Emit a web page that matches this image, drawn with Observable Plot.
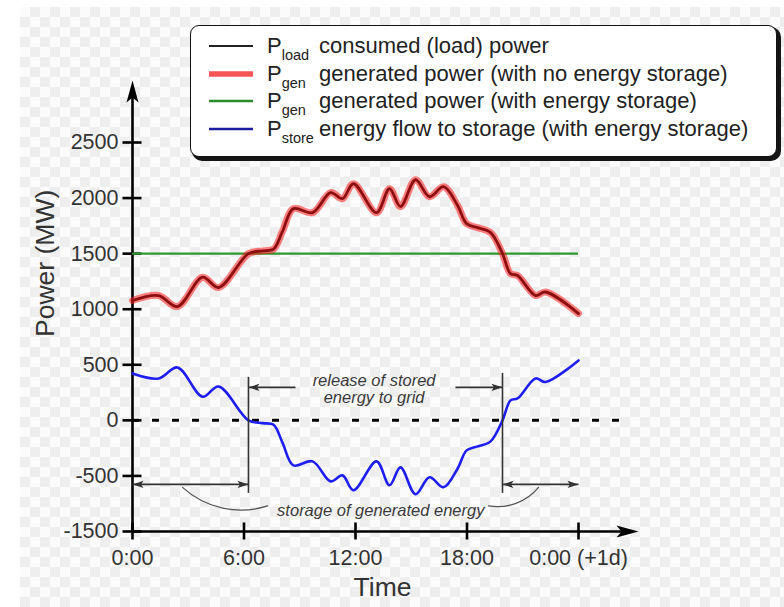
<!DOCTYPE html>
<html><head><meta charset="utf-8">
<script src="https://cdn.jsdelivr.net/npm/d3@7"></script>
<script src="https://cdn.jsdelivr.net/npm/@observablehq/plot@0.6"></script>
<style>
html,body{margin:0;padding:0;background:#fff;}
#wrap{position:relative;width:784px;height:607px;overflow:hidden;font-family:"Liberation Sans",Arial,sans-serif;}
#bg{position:absolute;left:20px;top:7px;right:0;bottom:0;background:repeating-conic-gradient(#eeeeee 0 25%, #fbfbfb 0 50%) 0 0/20px 20px;}
#chart{position:absolute;left:0;top:0;}
#chart svg{display:block;}
#legend{position:absolute;left:190px;top:25px;width:585px;height:130px;border:1.5px solid #111;border-radius:9px;background:#fff;box-shadow:3px 3px 0 1px #151515;color:#222;}
.row{position:absolute;left:0;height:28px;width:100%;}
.sw{position:absolute;left:17px;top:6px;}
.p{position:absolute;left:76px;top:0px;font-size:22px;line-height:24px;white-space:nowrap;}
.p sub{font-size:14.5px;vertical-align:-7px;line-height:0;}
.t{position:absolute;left:128px;top:0px;font-size:22px;line-height:24px;white-space:nowrap;}
</style></head>
<body>
<div id="wrap"><div id="bg"></div><div id="chart"></div><div id="legend"></div></div>
<script>
// ---- data ----
const hours   = [0, 1.40, 2.42, 3.77, 4.63, 6.24, 7.00, 7.59, 8.07, 8.66, 9.69, 10.66, 11.30, 11.89, 13.13, 13.83, 14.42, 15.23, 15.98, 16.74, 17.49, 17.98, 18.57, 19.27, 19.91, 20.34, 20.72, 21.69, 22.23, 24];
const loadMW  = [1078, 1123, 1024, 1288, 1195, 1500, 1525, 1540, 1700, 1905, 1869, 2049, 1995, 2129, 1869, 2084, 1923, 2165, 2012, 2102, 1935, 1770, 1734, 1689, 1500, 1320, 1303, 1123, 1155, 961];
const storeMW = [422, 377, 476, 212, 305, 0, -25, -40, -200, -405, -369, -549, -495, -629, -369, -584, -423, -665, -512, -602, -435, -270, -234, -189, 0, 180, 197, 377, 345, 539];
const genWithStorageMW = 1500;

const xTicks = [0, 6, 12, 18, 24];
const xTickLabels = ["0:00", "6:00", "12:00", "18:00", "0:00 (+1d)"];
const yTicks = [-1000, -500, 0, 500, 1000, 1500, 2000, 2500];
const yTickLabels = ["-1500", "-500", "0", "500", "1000", "1500", "2000", "2500"];

const xAxisEnd = 27.23;   // hours, tip of x-axis arrow
const yAxisTop = 3058;    // MW, tip of y-axis arrow
const yAxisBottom = -1000;
const zeroLineEnd = 26.4;

const releaseStart = 6.24, releaseEnd = 19.91, dayEnd = 24;
const releaseMarkerTops = [387, 423];
const markerBottom = -657;
const releaseArrowMW = 297;
const releaseArrowFrom = [8.77, 17.38];
const storageArrowMW = -576;
const releaseText = "release of stored\nenergy to grid";
const releaseTextPos = [13.0, 279];
const storageText = "storage of generated energy";
const storageTextPos = [13.36, -810];
const leaderLines = [
  {x1: 2.69, y1: -603, x2: 7.27, y2: -770, bend: -30},
  {x1: 21.85, y1: -603, x2: 19.16, y2: -770, bend: 30}
];

const legendItems = [
  {sub: "load", text: "consumed (load) power", color: "#222", width: 2},
  {sub: "gen", text: "generated power (with no energy storage)", color: "#f55555", width: 5.5},
  {sub: "gen", text: "generated power (with energy storage)", color: "#2a8c2a", width: 2.5},
  {sub: "store", text: "energy flow to storage (with energy storage)", color: "#1c1ca0", width: 2.5}
];

// ---- build ----
const series = hours.map((h, i) => ({h, load: loadMW[i], store: storeMW[i]}));
const bigHead = {draw(ctx) { ctx.moveTo(0, 0); ctx.lineTo(6, 22); ctx.lineTo(0, 17); ctx.lineTo(-6, 22); ctx.closePath(); }};
const smallHead = {draw(ctx) { ctx.moveTo(0, 0); ctx.lineTo(3.6, 11); ctx.lineTo(0, 8.5); ctx.lineTo(-3.6, 11); ctx.closePath(); }};

const axisHeads = [{x: 0, y: yAxisTop, r: 0}, {x: xAxisEnd, y: yAxisBottom, r: 90}];
const markers = [
  {x: releaseStart, y1: releaseMarkerTops[0], y2: markerBottom},
  {x: releaseEnd, y1: releaseMarkerTops[1], y2: markerBottom}
];
const shafts = [
  {x1: releaseArrowFrom[0], x2: releaseStart, y: releaseArrowMW},
  {x1: releaseArrowFrom[1], x2: releaseEnd, y: releaseArrowMW},
  {x1: 0, x2: releaseStart, y: storageArrowMW},
  {x1: releaseEnd, x2: dayEnd, y: storageArrowMW}
];
const heads = [
  {x: releaseStart, y: releaseArrowMW, r: -90},
  {x: releaseEnd, y: releaseArrowMW, r: 90},
  {x: 0, y: storageArrowMW, r: -90},
  {x: releaseStart, y: storageArrowMW, r: 90},
  {x: releaseEnd, y: storageArrowMW, r: -90},
  {x: dayEnd, y: storageArrowMW, r: 90}
];

const chart = Plot.plot({
  width: 784, height: 607,
  marginLeft: 132, marginRight: 206, marginTop: 142, marginBottom: 76,
  x: {domain: [0, 24]},
  y: {domain: [-1000, 2500]},
  style: {background: "transparent", fontFamily: "'Liberation Sans', Arial, sans-serif", color: "#333"},
  marks: [
    // axis lines
    Plot.ruleX([0], {y1: yAxisBottom, y2: yAxisTop - 110, stroke: "#000", strokeWidth: 2.6}),
    Plot.ruleY([yAxisBottom], {x1: 0, x2: xAxisEnd - 0.6, stroke: "#000", strokeWidth: 2.6}),
    Plot.axisY({ticks: yTicks, tickFormat: (d) => yTickLabels[yTicks.indexOf(d)], tickSize: 19, tickPadding: 4.5, dx: 9.5,
      fontSize: 21.5, strokeWidth: 2.6, stroke: "#000", fill: "#333", label: null}),
    Plot.axisX({ticks: xTicks, tickFormat: (d) => xTickLabels[xTicks.indexOf(d)], tickSize: 17, tickPadding: 10, dy: -8.5,
      fontSize: 21.5, strokeWidth: 2.6, stroke: "#000", fill: "#333", label: null}),
    // zero line and constant generation
    Plot.ruleY([0], {x1: 0, x2: zeroLineEnd, stroke: "#000", strokeWidth: 3, strokeDasharray: "7,13"}),
    Plot.ruleY([genWithStorageMW], {x1: 0, x2: dayEnd, stroke: "#2e992e", strokeWidth: 2.2}),
    // storage flow
    Plot.line(series, {x: "h", y: "store", curve: "catmull-rom", stroke: "#1e1ef0", strokeWidth: 2.6}),
    // load (black) with generation (no storage) red halo
    Plot.line(series, {x: "h", y: "load", curve: "catmull-rom", stroke: "#000", strokeWidth: 2.8}),
    Plot.line(series, {x: "h", y: "load", curve: "catmull-rom", stroke: "#ff1a1a", strokeWidth: 7, strokeOpacity: 0.55}),
    // annotations
    Plot.ruleX(markers, {x: "x", y1: "y1", y2: "y2", stroke: "#333", strokeWidth: 1.6}),
    Plot.link(shafts, {x1: "x1", x2: "x2", y1: "y", y2: "y", stroke: "#333", strokeWidth: 1.6}),
    Plot.dot(heads, {x: "x", y: "y", rotate: "r", symbol: smallHead, r: 4, fill: "#333", stroke: "none"}),
    Plot.arrow([leaderLines[0]], {x1: "x1", y1: "y1", x2: "x2", y2: "y2", bend: leaderLines[0].bend, headLength: 0, stroke: "#555", strokeWidth: 1.3}),
    Plot.arrow([leaderLines[1]], {x1: "x1", y1: "y1", x2: "x2", y2: "y2", bend: leaderLines[1].bend, headLength: 0, stroke: "#555", strokeWidth: 1.3}),
    Plot.text([releaseText], {x: releaseTextPos[0], y: releaseTextPos[1], text: d => d, fontSize: 16.5, fontStyle: "italic", fill: "#3a3a3a", lineHeight: 1}),
    Plot.text([storageText], {x: storageTextPos[0], y: storageTextPos[1], text: d => d, fontSize: 16.5, fontStyle: "italic", fill: "#3a3a3a"}),
    // axis arrowheads
    Plot.dot(axisHeads, {x: "x", y: "y", rotate: "r", symbol: bigHead, r: 6, fill: "#000", stroke: "none"}),
    // axis titles
    Plot.text(["Power (MW)"], {frameAnchor: "left", dx: -87, rotate: -90, text: d => d, fontSize: 26.5, fill: "#333"}),
    Plot.text(["Time"], {frameAnchor: "bottom", dx: 27, dy: 64, text: d => d, fontSize: 26.5, fill: "#333"})
  ]
});
document.getElementById("chart").appendChild(chart);

const legend = document.getElementById("legend");
legendItems.forEach((it, i) => {
  const row = document.createElement("div");
  row.className = "row";
  row.style.top = (8 + i * 27.7) + "px";
  row.innerHTML =
    `<svg class="sw" width="46" height="12"><line x1="1" x2="45" y1="6" y2="6" stroke="${it.color}" stroke-width="${it.width}"/></svg>` +
    `<span class="p">P<sub>${it.sub}</sub></span><span class="t">${it.text}</span>`;
  legend.appendChild(row);
});
</script>
</body></html>
